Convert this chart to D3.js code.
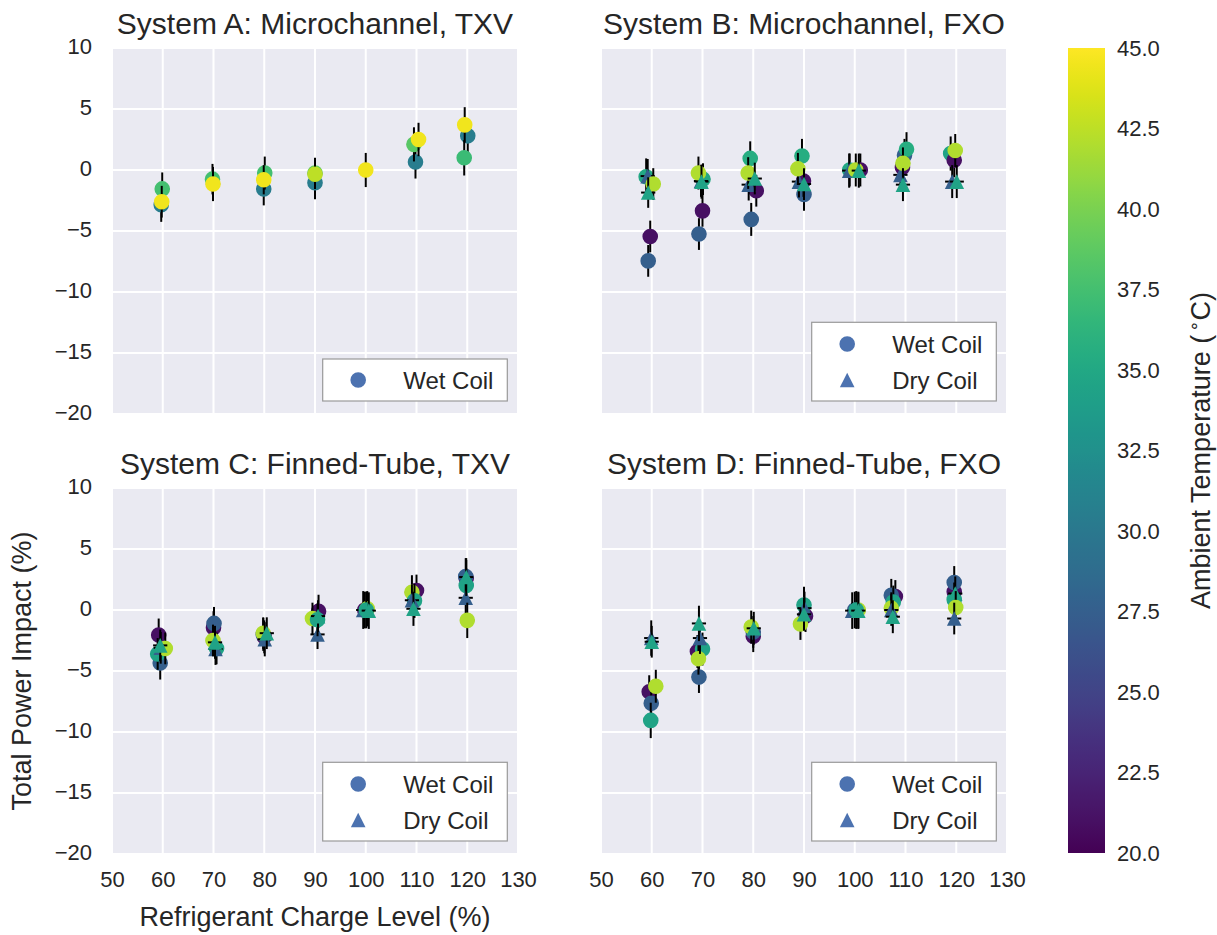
<!DOCTYPE html>
<html>
<head>
<meta charset="utf-8">
<script src="https://cdn.jsdelivr.net/npm/d3@7"></script>
<style>
  html, body { margin: 0; padding: 0; background: #ffffff; }
  svg text { font-family: "Liberation Sans", Arial, sans-serif; fill: #262626; }
</style>
</head>
<body>
<svg id="chart" width="1217" height="935"></svg>
<script>
// ---- Data: charge level (%), total power impact (%), impact uncertainty (%),
// ---- ambient temperature (°C) and coil condition for each test point.

const aCharge = [59.7, 59.9, 59.8, 69.8, 69.9, 79.9, 80.1, 79.9, 90.0, 90.0, 90.0, 100.0, 109.8, 109.5, 110.4, 120.1, 119.4, 119.5];
const aImpact = [-2.85, -1.55, -2.6, -0.75, -1.15, -1.55, -0.25, -0.8, -1.05, -0.25, -0.35, 0.0, 0.65, 2.1, 2.5, 2.8, 1.0, 3.7];
const aErr    = [1.4, 1.35, 1.3, 1.25, 1.4, 1.35, 1.35, 1.2, 1.35, 1.25, 1.2, 1.4, 1.35, 1.4, 1.37, 1.4, 1.45, 1.45];
const aTemp   = [30.5, 37.5, 44.5, 37.5, 44.5, 30.5, 37.5, 44.5, 30.5, 39, 42.5, 44.5, 30.5, 38.5, 44.5, 30.5, 37, 44.5];
const aCoil   = ["wet", "wet", "wet", "wet", "wet", "wet", "wet", "wet", "wet", "wet", "wet", "wet", "wet", "wet", "wet", "wet", "wet", "wet"];

const bCharge = [59.3, 59.7, 58.9, 59.2, 60.3, 59.3,
                 69.3, 70.0, 70.1, 69.7, 69.2, 69.8,
                 79.6, 80.6, 79.4, 79.1, 79.0, 80.3,
                 90.0, 89.9, 89.6, 89.0, 88.8, 90.0,
                 99.0, 101.1, 98.9, 100.2, 100.8,
                 109.8, 109.4, 110.2, 109.0, 109.5, 109.5,
                 118.9, 119.6, 119.2, 119.8, 120.1];
const bImpact = [-7.45, -5.45, -0.55, -0.5, -1.15, -1.85,
                 -5.25, -3.35, -0.75, -0.9, -0.25, -0.95,
                 -4.05, -1.7, 0.95, -1.2, -0.25, -0.7,
                 -2.0, -0.9, 1.15, -0.95, 0.1, -1.15,
                 0.0, 0.0, -0.05, 0.0, -0.05,
                 1.2, 0.2, 1.7, -0.4, 0.55, -1.2,
                 1.35, 0.8, -0.95, 1.6, -0.95];
const bErr    = [1.3, 1.3, 1.5, 1.4, 1.3, 1.25,
                 1.3, 1.3, 1.3, 1.3, 1.35, 1.4,
                 1.35, 1.3, 1.4, 1.3, 1.3, 1.3,
                 1.35, 1.3, 1.4, 1.3, 1.3, 1.3,
                 1.35, 1.35, 1.4, 1.35, 1.4,
                 1.35, 1.3, 1.4, 1.3, 1.3, 1.35,
                 1.4, 1.4, 1.35, 1.35, 1.35];
const bTemp   = [27.5, 21, 35, 27.5, 42, 34.5,
                 27.5, 21, 35, 27.5, 42, 34.5,
                 27.5, 21, 35.5, 27.5, 42, 34.5,
                 27.5, 21, 35.5, 27.5, 42, 34.5,
                 35, 21, 27.5, 42, 34.5,
                 27.5, 21, 35.5, 27.5, 42, 34.5,
                 34.5, 21, 27.5, 42, 34.5];
const bCoil   = ["wet", "wet", "wet", "dry", "wet", "dry",
                 "wet", "wet", "wet", "dry", "wet", "dry",
                 "wet", "wet", "wet", "dry", "wet", "dry",
                 "wet", "wet", "wet", "dry", "wet", "dry",
                 "wet", "wet", "dry", "wet", "dry",
                 "wet", "wet", "wet", "dry", "wet", "dry",
                 "wet", "wet", "dry", "wet", "dry"];

const cCharge = [59.5, 59.2, 59.0, 59.6, 60.5, 59.5,
                 70.0, 70.1, 70.6, 70.4, 69.9, 70.3,
                 80.0, 79.8, 79.8, 80.1, 80.5,
                 90.7, 90.5, 89.5, 90.5, 90.6,
                 99.8, 99.5, 100.3, 100.1, 100.6,
                 110.0, 109.1, 109.6, 109.1, 109.4,
                 119.8, 119.7, 119.8, 119.7, 119.8, 120.0];
const cImpact = [-4.35, -2.05, -3.6, -3.1, -3.15, -2.9,
                 -1.45, -1.1, -3.15, -3.2, -2.5, -2.65,
                 -2.2, -2.0, -1.9, -2.4, -1.9,
                 -0.1, -2.0, -0.7, -0.8, -0.5,
                 0.0, 0.0, 0.1, 0.0, -0.05,
                 1.6, 1.45, 0.75, 0.8, 0.1,
                 2.6, 2.75, 2.0, 1.0, 2.7, -0.85];
const cErr    = [1.35, 1.35, 1.3, 1.3, 1.3, 1.3,
                 1.35, 1.35, 1.3, 1.3, 1.3, 1.35,
                 1.35, 1.35, 1.3, 1.4, 1.3,
                 1.35, 1.2, 1.3, 1.35, 1.3,
                 1.5, 1.55, 1.45, 1.5, 1.5,
                 1.3, 1.4, 1.4, 1.3, 1.4,
                 1.5, 1.5, 1.45, 1.4, 1.55, 1.45];
const cTemp   = [27.5, 21, 34.5, 27.5, 42, 34.5,
                 21, 27.5, 34.5, 27.5, 42, 34.5,
                 21, 27.5, 42, 27.5, 34.5,
                 21, 27.5, 42, 34.5, 34.5,
                 21, 27.5, 42, 34.5, 34.5,
                 21, 42, 34.5, 27.5, 34.5,
                 21, 27.5, 34.5, 27.5, 34.5, 42];
const cCoil   = ["wet", "wet", "wet", "dry", "wet", "dry",
                 "wet", "wet", "wet", "dry", "wet", "dry",
                 "wet", "wet", "wet", "dry", "dry",
                 "wet", "dry", "wet", "wet", "dry",
                 "wet", "dry", "wet", "wet", "dry",
                 "wet", "wet", "wet", "dry", "dry",
                 "wet", "wet", "wet", "dry", "dry", "wet"];

const dCharge = [59.5, 59.9, 59.8, 60.8, 59.9, 60.0,
                 69.0, 69.3, 70.0, 69.2, 69.5, 69.3,
                 80.0, 80.0, 79.6, 80.1,
                 90.3, 90.0, 90.1, 89.3, 90.0,
                 100.0, 99.5, 100.7, 100.3, 100.7,
                 108.0, 107.2, 107.6, 107.2, 107.2, 107.5,
                 119.6, 119.6, 119.6, 119.8, 119.9, 119.6];
const dImpact = [-6.7, -7.65, -9.05, -6.25, -2.3, -2.6,
                 -3.4, -5.5, -3.2, -4.0, -2.3, -1.1,
                 -2.15, -1.8, -1.4, -1.5,
                 -0.5, 0.4, 0.15, -1.15, -0.35,
                 0.0, -0.05, 0.0, 0.0, -0.05,
                 1.1, 1.2, 0.65, 0.15, 0.0, -0.55,
                 1.5, 2.25, 0.85, 1.35, 0.2, -0.7];
const dErr    = [1.35, 1.3, 1.45, 1.35, 1.45, 1.3,
                 1.35, 1.3, 1.35, 1.3, 1.3, 1.45,
                 1.3, 1.3, 1.35, 1.35,
                 1.3, 1.5, 1.35, 1.3, 1.35,
                 1.5, 1.5, 1.5, 1.55, 1.5,
                 1.35, 1.35, 1.35, 1.3, 1.3, 1.35,
                 1.4, 1.35, 1.4, 1.4, 1.35, 1.3];
const dTemp   = [21, 27.5, 34.5, 42, 27.5, 34.5,
                 21, 27.5, 34.5, 42, 27.5, 34.5,
                 21, 27.5, 42, 34.5,
                 21, 34.5, 27.5, 42, 34.5,
                 27.5, 27.5, 42, 34.5, 34.5,
                 21, 27.5, 34.5, 42, 27.5, 34.5,
                 21, 27.5, 34.5, 34.5, 42, 27.5];
const dCoil   = ["wet", "wet", "wet", "wet", "dry", "dry",
                 "wet", "wet", "wet", "wet", "dry", "dry",
                 "wet", "wet", "wet", "dry",
                 "wet", "wet", "dry", "wet", "dry",
                 "wet", "dry", "wet", "wet", "dry",
                 "wet", "wet", "wet", "wet", "dry", "dry",
                 "wet", "wet", "wet", "dry", "wet", "dry"];

// Horizontal uncertainty of the charge level (%)
const chargeErr = 1.4;

const panelTitles = ["System A: Microchannel, TXV", "System B: Microchannel, FXO",
                     "System C: Finned-Tube, TXV", "System D: Finned-Tube, FXO"];
const xTicks = [50, 60, 70, 80, 90, 100, 110, 120, 130];
const yTicks = [-20, -15, -10, -5, 0, 5, 10];
const tempTicks = [20, 22.5, 25, 27.5, 30, 32.5, 35, 37.5, 40, 42.5, 45];
const legendLabels = { wet: "Wet Coil", dry: "Dry Coil" };

// ---- Layout ----
const svg = d3.select("#chart");
const pw = 406, ph = 366;
const panels = [
  { left: 112, top: 48, ch: aCharge, im: aImpact, er: aErr, tp: aTemp, cl: aCoil, yLab: true,  xLab: false, legend: ["wet"] },
  { left: 601, top: 48, ch: bCharge, im: bImpact, er: bErr, tp: bTemp, cl: bCoil, yLab: false, xLab: false, legend: ["wet", "dry"] },
  { left: 112, top: 488, ch: cCharge, im: cImpact, er: cErr, tp: cTemp, cl: cCoil, yLab: true,  xLab: true,  legend: ["wet", "dry"] },
  { left: 601, top: 488, ch: dCharge, im: dImpact, er: dErr, tp: dTemp, cl: dCoil, yLab: false, xLab: true,  legend: ["wet", "dry"] }
];

const x = d3.scaleLinear().domain([50, 130]).range([0, pw]);
const y = d3.scaleLinear().domain([-20, 10]).range([ph, 0]);
const color = d3.scaleSequential(d3.interpolateViridis).domain([20, 45]);

const triangleUp = {
  draw(ctx, size) {
    const r = Math.sqrt(size) / 2;
    ctx.moveTo(0, -r);
    ctx.lineTo(r, r);
    ctx.lineTo(-r, r);
    ctx.closePath();
  }
};
const circleSym = d3.symbol().type(d3.symbolCircle).size(Math.PI * 7.8 * 7.8);
const triSym = d3.symbol().type(triangleUp).size(14.6 * 14.6);
const markerPath = c => (c === "dry" ? triSym() : circleSym());

const tickFont = 22;

panels.forEach((p, pi) => {
  const g = svg.append("g").attr("transform", `translate(${p.left},${p.top})`);

  g.append("rect").attr("width", pw).attr("height", ph).attr("fill", "#eaeaf2");

  // grid
  g.append("g").selectAll("line").data(xTicks).join("line")
    .attr("x1", d => x(d)).attr("x2", d => x(d))
    .attr("y1", 0).attr("y2", ph)
    .attr("stroke", "#ffffff").attr("stroke-width", 2);
  g.append("g").selectAll("line").data(yTicks).join("line")
    .attr("y1", d => y(d)).attr("y2", d => y(d))
    .attr("x1", 0).attr("x2", pw)
    .attr("stroke", "#ffffff").attr("stroke-width", 2);

  // axes (labels only)
  if (p.yLab) {
    const ya = g.append("g").call(d3.axisLeft(y).tickValues(yTicks).tickSize(0).tickPadding(20).tickFormat(d3.format("d")));
    ya.select(".domain").remove();
    ya.selectAll("text").attr("font-size", tickFont).attr("font-family", "Liberation Sans, Arial, sans-serif")
      .attr("fill", "#262626").attr("dy", "0.25em");
  }
  if (p.xLab) {
    const xa = g.append("g").attr("transform", `translate(0,${ph})`)
      .call(d3.axisBottom(x).tickValues(xTicks).tickSize(0).tickPadding(17).tickFormat(d3.format("d")));
    xa.select(".domain").remove();
    xa.selectAll("text").attr("font-size", tickFont).attr("font-family", "Liberation Sans, Arial, sans-serif").attr("fill", "#262626");
  }

  // title
  svg.append("text")
    .attr("x", p.left + pw / 2).attr("y", p.top - 14)
    .attr("text-anchor", "middle").attr("font-size", 30)
    .text(panelTitles[pi]);

  // points with error bars, drawn point by point
  const pts = p.ch.map((c, i) => ({ c, v: p.im[i], e: p.er[i], t: p.tp[i], k: p.cl[i] }));
  const pg = g.append("g");
  pts.forEach(d => {
    const cx = x(d.c), cy = y(d.v);
    pg.append("line")
      .attr("x1", cx).attr("x2", cx)
      .attr("y1", y(d.v + d.e)).attr("y2", y(d.v - d.e))
      .attr("stroke", "#000").attr("stroke-width", 2);
    pg.append("line")
      .attr("x1", x(d.c - chargeErr)).attr("x2", x(d.c + chargeErr))
      .attr("y1", cy).attr("y2", cy)
      .attr("stroke", "#000").attr("stroke-width", 2);
    pg.append("path")
      .attr("d", markerPath(d.k))
      .attr("transform", `translate(${cx},${cy})`)
      .attr("fill", color(d.t));
  });

  // legend
  const n = p.legend.length;
  const lw = 184.6, rowH = 36;
  const lh = n === 1 ? 42 : 78.7;
  const lx = 395.3 - lw, ly = 353 - lh;
  const lg = g.append("g").attr("transform", `translate(${lx},${ly})`);
  lg.append("rect").attr("width", lw).attr("height", lh)
    .attr("fill", "#ffffff").attr("stroke", "#999999").attr("stroke-width", 1.2);
  p.legend.forEach((k, i) => {
    const cy = lh - 21 - (n - 1 - i) * rowH;
    lg.append("path").attr("d", markerPath(k))
      .attr("transform", `translate(35.5,${cy})`).attr("fill", "#4c72b0");
    lg.append("text").attr("x", 80.5).attr("y", cy).attr("dy", "0.36em")
      .attr("font-size", 24).text(legendLabels[k]);
  });
});

// axis titles
svg.append("text")
  .attr("x", 112 + pw / 2).attr("y", 926)
  .attr("text-anchor", "middle").attr("font-size", 27)
  .text("Refrigerant Charge Level (%)");
svg.append("text")
  .attr("transform", `translate(31,${488 + ph / 2}) rotate(-90)`)
  .attr("text-anchor", "middle").attr("font-size", 27)
  .text("Total Power Impact (%)");

// ---- Colour bar ----
const cbX = 1068, cbW = 37, cbTop = 48, cbBot = 853;
const cbScale = d3.scaleLinear().domain([20, 45]).range([cbBot, cbTop]);
const defs = svg.append("defs");
const grad = defs.append("linearGradient").attr("id", "viridisGrad")
  .attr("x1", 0).attr("x2", 0).attr("y1", 1).attr("y2", 0);
d3.range(0, 1.0001, 0.02).forEach(s => {
  grad.append("stop").attr("offset", s).attr("stop-color", d3.interpolateViridis(s));
});
svg.append("rect").attr("x", cbX).attr("y", cbTop).attr("width", cbW).attr("height", cbBot - cbTop)
  .attr("fill", "url(#viridisGrad)");
const cbAxis = svg.append("g").attr("transform", `translate(${cbX + cbW},0)`)
  .call(d3.axisRight(cbScale).tickValues(tempTicks).tickSize(0).tickPadding(12).tickFormat(d3.format(".1f")));
cbAxis.select(".domain").remove();
cbAxis.selectAll("text").attr("font-size", tickFont).attr("font-family", "Liberation Sans, Arial, sans-serif").attr("fill", "#262626");

const cbLabel = svg.append("text")
  .attr("transform", `translate(1210,${(cbTop + cbBot) / 2}) rotate(-90)`)
  .attr("text-anchor", "middle").attr("font-size", 27);
cbLabel.append("tspan").text("Ambient Temperature (");
cbLabel.append("tspan").attr("font-size", 18).attr("dy", -10).attr("dx", 3)
  .attr("font-family", "DejaVu Sans, sans-serif").text("∘");
cbLabel.append("tspan").attr("dy", 10).text("C)");
</script>
</body>
</html>
